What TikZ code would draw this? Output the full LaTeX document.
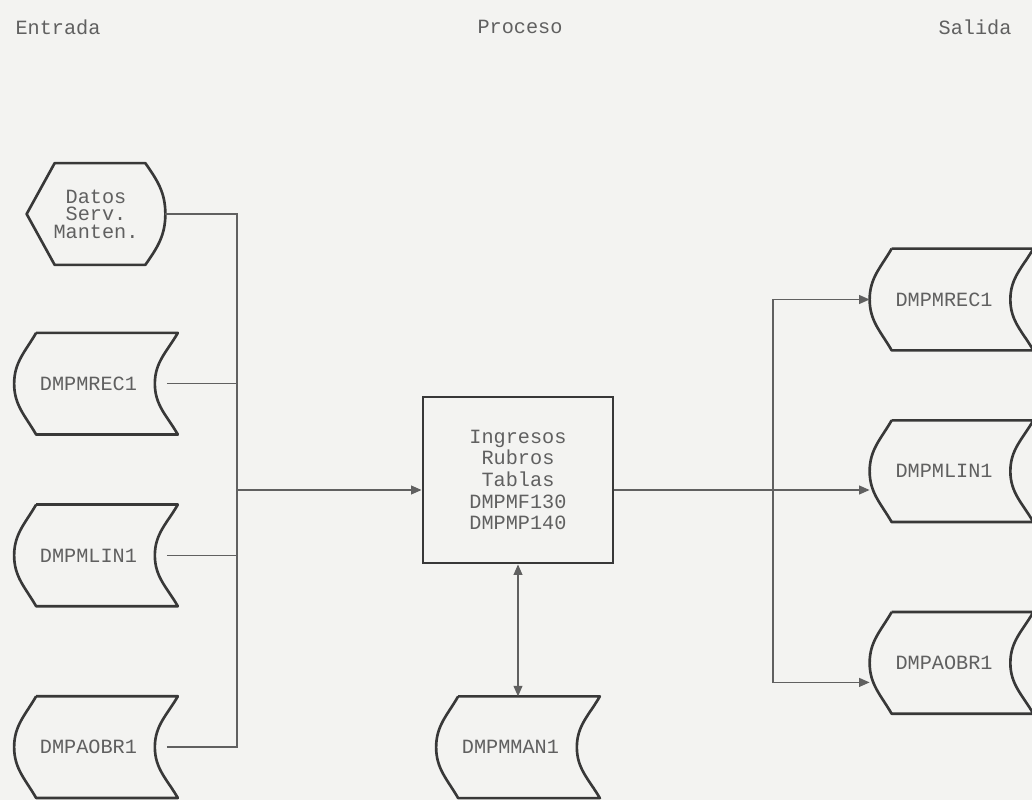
\documentclass[tikz,border=0pt]{standalone}
\usepackage{fontspec}
\setmonofont{Liberation Mono}
\usetikzlibrary{arrows.meta,positioning}
\definecolor{ink}{HTML}{383838}
\definecolor{paper}{HTML}{F3F3F1}

\begin{document}
\begin{tikzpicture}[
    node distance=1.4cm,
    store/.style={minimum width=3.26cm, minimum height=2.02cm, inner sep=0pt, font=\ttfamily\fontsize{11.5}{12}\selectfont, text=ink!80, execute at end node={\hspace{0.3cm}}},
    display/.style={minimum width=2.76cm, minimum height=2.02cm, inner sep=0pt, align=center, font=\ttfamily\fontsize{11.5}{10}\selectfont, text=ink!80},
    procbox/.style={draw=ink, line width=1.6pt, minimum width=3.8cm, minimum height=3.32cm, align=center, font=\ttfamily\fontsize{11.5}{12.3}\selectfont, text=ink!80},
    outline/.style={draw=ink, line width=1.5pt, line join=round},
    wire/.style={draw=ink!80, line width=0.9pt},
    arrow/.style={wire, -{Triangle[length=6pt,width=5pt]}},
    twoway/.style={wire, {Triangle[length=6pt,width=5pt]}-{Triangle[length=6pt,width=5pt]}},
    heading/.style={font=\ttfamily\fontsize{11.5}{12}\selectfont, text=ink!80},
]

% ── Page ──
\fill[paper] (0,0) rectangle (20.64,-16);
\useasboundingbox (0,0) rectangle (20.64,-16);

% ── Headings ──
\node[heading] (hin) at (1.16,-0.54) {Entrada};
\node[heading] (hproc) at (10.4,-0.54) {Proceso};
\node[heading] (hout) at (19.5,-0.54) {Salida};

% ── Entrada ──
\node[display] (datos) at (1.92,-4.28) {Datos\\Serv.\\Manten.};
\node[store, below=1.36cm of datos] (erec) {DMPMREC1};
\node[store, below=1.40cm of erec] (elin) {DMPMLIN1};
\node[store, below=1.80cm of elin] (eobr) {DMPAOBR1};

% ── Proceso ──
\node[procbox] (proc) at (10.36,-9.6) {Ingresos\\Rubros\\Tablas\\DMPMF130\\DMPMP140};
\node[store, below=2.64cm of proc] (man) {DMPMMAN1};

% ── Salida ──
\node[store] (srec) at (19.03,-5.99) {DMPMREC1};
\node[store, below=1.40cm of srec] (slin) {DMPMLIN1};
\node[store, below=1.80cm of slin] (sobr) {DMPAOBR1};

% ── Outlines ──
\draw[outline] (datos.west) -- ([xshift=0.56cm]datos.north west) -- ([xshift=-0.4cm]datos.north east)
    to[out=-55,in=90] (datos.east) to[out=-90,in=55] ([xshift=-0.4cm]datos.south east)
    -- ([xshift=0.56cm]datos.south west) -- cycle;
\foreach \n in {erec,elin,eobr,man,srec,slin,sobr}
  \draw[outline] ([xshift=0.44cm]\n.north west) -- (\n.north east)
    to[out=-120,in=90] ([xshift=-0.46cm]\n.east)
    to[out=-90,in=120] (\n.south east)
    -- ([xshift=0.44cm]\n.south west)
    to[out=120,in=-90] (\n.west)
    to[out=90,in=-120] ([xshift=0.44cm]\n.north west);

% ── Buses ──
\coordinate (busin) at (4.74,-9.8);
\coordinate (busout) at (15.46,-9.8);

% ── Arrows ──
\draw[wire] (datos.east) -| (busin);
\draw[wire] ([xshift=-0.22cm]erec.east) -| (busin);
\draw[wire] ([xshift=-0.22cm]elin.east) -| (busin);
\draw[wire] ([xshift=-0.22cm]eobr.east) -| (busin);
\draw[arrow] (busin) -- (busin -| proc.west);
\draw[wire] (proc.east |- busout) -- (busout);
\draw[arrow] (busout) -- (busout -| slin.west);
\draw[arrow] (busout) |- (srec.west);
\draw[arrow] (busout) |- ([yshift=-0.39cm]sobr.west);
\draw[twoway] (proc.south) -- (man.north);

\end{tikzpicture}
\end{document}
